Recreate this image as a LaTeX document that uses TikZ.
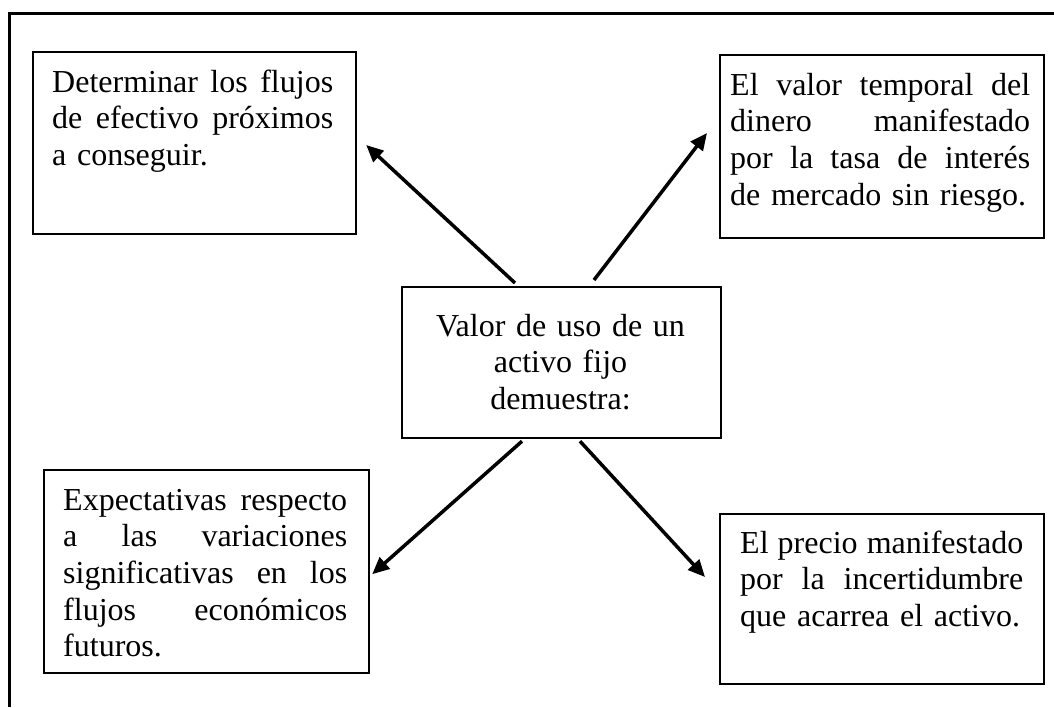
\documentclass[tikz,border=0pt]{standalone}
\usepackage{fontspec}
\setmainfont{Liberation Serif}[Ligatures=NoCommon]
\usetikzlibrary{arrows.meta}
\newcommand{\jl}[2]{\makebox[#1][l]{#2}}
\newcommand{\gap}{\hfill}
\begin{document}
\begin{tikzpicture}[x=1pt,y=-1pt,
  boxnode/.style={draw,line width=2.2pt,rectangle,inner sep=0pt,anchor=north west},
  txt/.style={inner sep=0pt,anchor=base west,align=left,font=\fontsize{32}{36.7}\selectfont},
  arr/.style={line width=3.5pt,-{Triangle[length=17pt,width=15pt]}}]
\useasboundingbox (0,0) rectangle (1054,707);
\draw[line width=3pt] (1054,13) -- (9,13) -- (9,707);
% boxes
\node[boxnode,minimum width=323pt,minimum height=182pt] (tl) at (32,51) {};
\node[boxnode,minimum width=324pt,minimum height=183pt] (tr) at (719,54) {};
\node[boxnode,minimum width=319pt,minimum height=151pt] (c) at (401,286) {};
\node[boxnode,minimum width=325pt,minimum height=203pt] (bl) at (43,469) {};
\node[boxnode,minimum width=324pt,minimum height=170pt] (br) at (719,513) {};
% texts
\node[txt,text width=281pt] (tlt) at (52,92)
  {\jl{281pt}{Determinar\gap los\gap flujos}\\\jl{281pt}{de\gap efectivo\gap próximos}\\a conseguir.};
\node[txt,text width=300pt] (trt) at (730,95)
  {\jl{300pt}{El\gap valor\gap temporal\gap del}\\\jl{300pt}{dinero\gap manifestado}\\\jl{300pt}{por\gap la\gap tasa\gap de\gap interés}\\de mercado sin riesgo.};
\node[txt,anchor=base,align=center,text width=319pt] (ct) at (560.5,336)
  {Valor de uso de un\\activo fijo\\demuestra:};
\node[txt,text width=284pt] (blt) at (63,510)
  {\jl{284pt}{Expectativas\gap respecto}\\\jl{284pt}{a\gap las\gap variaciones}\\\jl{284pt}{significativas\gap en\gap los}\\\jl{284pt}{flujos\gap económicos}\\futuros.};
\node[txt,text width=283pt] (brt) at (740,553)
  {\jl{283pt}{El\gap precio\gap manifestado}\\\jl{283pt}{por\gap la\gap incertidumbre}\\que acarrea el activo.};
% arrows
\draw[arr] ([xshift=114pt,yshift=3pt]c.north west) -- ([xshift=9pt,yshift=-94pt]tl.north east);
\draw[arr] ([xshift=193pt,yshift=6pt]c.north west) -- ([xshift=-12pt,yshift=-79pt]tr.north west);
\draw[arr] ([xshift=121pt,yshift=-2pt]c.south west) -- ([xshift=2pt,yshift=100pt]bl.south east);
\draw[arr] ([xshift=179pt,yshift=-2pt]c.south west) -- ([xshift=-14pt,yshift=-64pt]br.north west);
\end{tikzpicture}
\end{document}
